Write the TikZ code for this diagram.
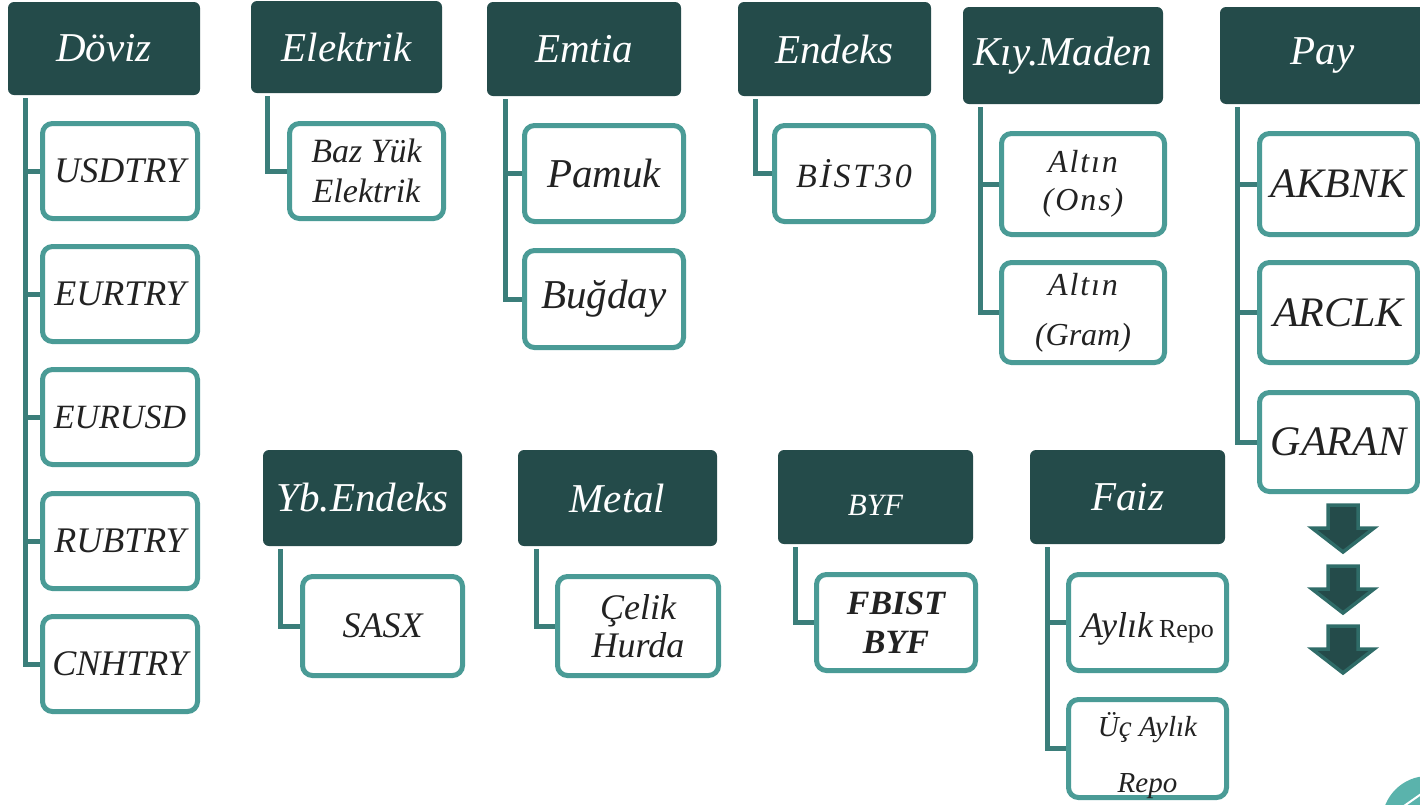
\documentclass[tikz,border=0pt]{standalone}
\usepackage{fontspec}
\setmainfont{Liberation Serif}
\usetikzlibrary{backgrounds}
\definecolor{hdrcol}{RGB}{36,75,74}
\definecolor{bordcol}{RGB}{74,155,150}
\definecolor{conncol}{RGB}{59,126,122}
\definecolor{txtcol}{RGB}{34,34,34}
\definecolor{arrcol}{RGB}{47,108,104}
\definecolor{circcol}{RGB}{90,179,172}
\newcommand\fsz[2]{\fontsize{#1}{#2}\selectfont}
\tikzset{
  hdr/.style={rectangle, rounded corners=6pt, fill=hdrcol, text=white, inner sep=0pt,
    font=\fsz{41}{44}\itshape},
  item/.style={rectangle, rounded corners=10pt, draw=bordcol, line width=5pt, fill=white,
    text=txtcol, inner sep=0pt, align=center, font=\fsz{36}{40}\itshape},
  conn/.style={draw=conncol, line width=5pt},
  blockarrow/.style={fill=hdrcol, draw=arrcol, line width=3.5pt, line join=miter},
}
\begin{document}
\begin{tikzpicture}[x=1pt,y=-1pt]
\useasboundingbox (0,0) rectangle (1420,804);
% headers
\node[hdr, minimum width=192pt, minimum height=93pt] (doviz) at (104,48.5) {Döviz};
\node[hdr, minimum width=191pt, minimum height=92pt] (elek) at (346.5,47) {Elektrik};
\node[hdr, minimum width=194pt, minimum height=94pt] (emtia) at (584,49) {Emtia};
\node[hdr, minimum width=193pt, minimum height=94pt] (endeks) at (834.5,49) {Endeks};
\node[hdr, minimum width=200pt, minimum height=97pt] (kiy) at (1063,55.5) {Kıy.Maden};
\node[hdr, minimum width=205pt, minimum height=97pt] (pay) at (1322.5,55.5) {Pay};
\node[hdr, minimum width=199pt, minimum height=96pt] (yb) at (362.5,498) {Yb.Endeks};
\node[hdr, minimum width=199pt, minimum height=96pt] (metal) at (617.5,498) {Metal};
\node[hdr, minimum width=195pt, minimum height=94pt, font=\fsz{31}{32}\itshape] (byf) at (875.5,497) {\raisebox{-18pt}[0pt][0pt]{BYF}};
\node[hdr, minimum width=195pt, minimum height=94pt] (faiz) at (1127.5,497) {Faiz};
% Döviz children
\node[item, minimum width=155pt, minimum height=95pt] (usd) at (120,171) {USDTRY};
\node[item, minimum width=155pt, minimum height=95pt] (eur) at (120,294) {EURTRY};
\node[item, minimum width=155pt, minimum height=95pt, font=\fsz{34}{38}\itshape] (eurusd) at (120,417) {EURUSD};
\node[item, minimum width=155pt, minimum height=95pt] (rub) at (120,541) {RUBTRY};
\node[item, minimum width=155pt, minimum height=95pt] (cnh) at (120,664) {CNHTRY};
% Elektrik
\node[item, minimum width=154pt, minimum height=95pt, font=\fsz{34}{40}\itshape] (baz) at (366.5,171) {Baz Yük\\Elektrik};
% Emtia
\node[item, minimum width=159pt, minimum height=96pt, font=\fsz{41}{44}\itshape] (pamuk) at (604,173.5) {Pamuk};
\node[item, minimum width=159pt, minimum height=97pt, font=\fsz{41}{44}\itshape] (bugday) at (604,299) {Buğday};
% Endeks
\node[item, minimum width=159pt, minimum height=96pt, font=\fsz{34}{40}\itshape] (bist) at (854,173.5) {\addfontfeatures{LetterSpace=8}BİST30};
% Kıy.Maden
\node[item, minimum width=163pt, minimum height=101pt, font=\fsz{32}{38}\itshape] (ons) at (1083,184) {\addfontfeatures{LetterSpace=6}Altın\\\addfontfeatures{LetterSpace=6}(Ons)};
\node[item, minimum width=163pt, minimum height=100pt, font=\fsz{32}{50}\itshape] (gram) at (1083,312.5) {\addfontfeatures{LetterSpace=6}Altın\\(Gram)};
% Pay
\node[item, minimum width=158pt, minimum height=101pt, font=\fsz{42}{44}\itshape] (akbnk) at (1338.5,184) {AKBNK};
\node[item, minimum width=158pt, minimum height=100pt, font=\fsz{42}{44}\itshape] (arclk) at (1338.5,312.5) {ARCLK};
\node[item, minimum width=158pt, minimum height=99pt, font=\fsz{42}{44}\itshape] (garan) at (1338.5,442) {GARAN};
% bottom row
\node[item, minimum width=160pt, minimum height=99pt] (sasx) at (382.5,626) {SASX};
\node[item, minimum width=161pt, minimum height=99pt, font=\fsz{36}{38}\itshape] (celik) at (638,626) {Çelik\\Hurda};
\node[item, minimum width=159pt, minimum height=96pt, font=\fsz{34}{39}\bfseries\itshape] (fbist) at (896,622.5) {FBIST\\BYF};
\node[item, minimum width=158pt, minimum height=96pt] (aylik) at (1147.5,622.5) {\raisebox{-15pt}[0pt][0pt]{{\fsz{36}{40}\itshape Aylık}\,{\fsz{26}{30}\upshape Repo}}};
\node[item, minimum width=158pt, minimum height=98pt, font=\fsz{29}{56}\itshape] (uc) at (1147.5,748.5) {\raisebox{-16pt}[0pt][0pt]{Üç Aylık}\\\raisebox{-16pt}[0pt][0pt]{Repo}};
% connectors
\begin{scope}[on background layer]
\coordinate (c1) at ([xshift=18pt,yshift=-3pt]doviz.south west);
\coordinate (c2) at ([xshift=17pt,yshift=-3pt]elek.south west);
\coordinate (c3) at ([xshift=19pt,yshift=-3pt]emtia.south west);
\coordinate (c4) at ([xshift=18pt,yshift=-3pt]endeks.south west);
\coordinate (c5) at ([xshift=18pt,yshift=-3pt]kiy.south west);
\coordinate (c6) at ([xshift=18pt,yshift=-3pt]pay.south west);
\coordinate (c7) at ([xshift=18pt,yshift=-3pt]yb.south west);
\coordinate (c8) at ([xshift=19pt,yshift=-3pt]metal.south west);
\coordinate (c9) at ([xshift=18pt,yshift=-3pt]byf.south west);
\coordinate (c10) at ([xshift=18pt,yshift=-3pt]faiz.south west);
\foreach \ch in {usd,eur,eurusd,rub,cnh} \draw[conn] (c1) |- (\ch.west);
\draw[conn] (c2) |- (baz.west);
\foreach \ch in {pamuk,bugday} \draw[conn] (c3) |- (\ch.west);
\draw[conn] (c4) |- (bist.west);
\foreach \ch in {ons,gram} \draw[conn] (c5) |- (\ch.west);
\foreach \ch in {akbnk,arclk,garan} \draw[conn] (c6) |- (\ch.west);
\draw[conn] (c7) |- (sasx.west);
\draw[conn] (c8) |- (celik.west);
\draw[conn] (c9) |- (fbist.west);
\foreach \ch in {aylik,uc} \draw[conn] (c10) |- (\ch.west);
\end{scope}
% down arrows
\foreach \t in {505,566,626}{
  \draw[blockarrow] (1328,\t) -- (1358,\t) -- (1358,{\t+23}) -- (1374,{\t+23})
    -- (1343,{\t+47}) -- (1312,{\t+23}) -- (1328,{\t+23}) -- cycle;
}
% corner circle
\fill[circcol] (1428,822) circle (46);
\draw[white, line width=2pt] (1404,806) -- (1424,792);
\end{tikzpicture}
\end{document}
